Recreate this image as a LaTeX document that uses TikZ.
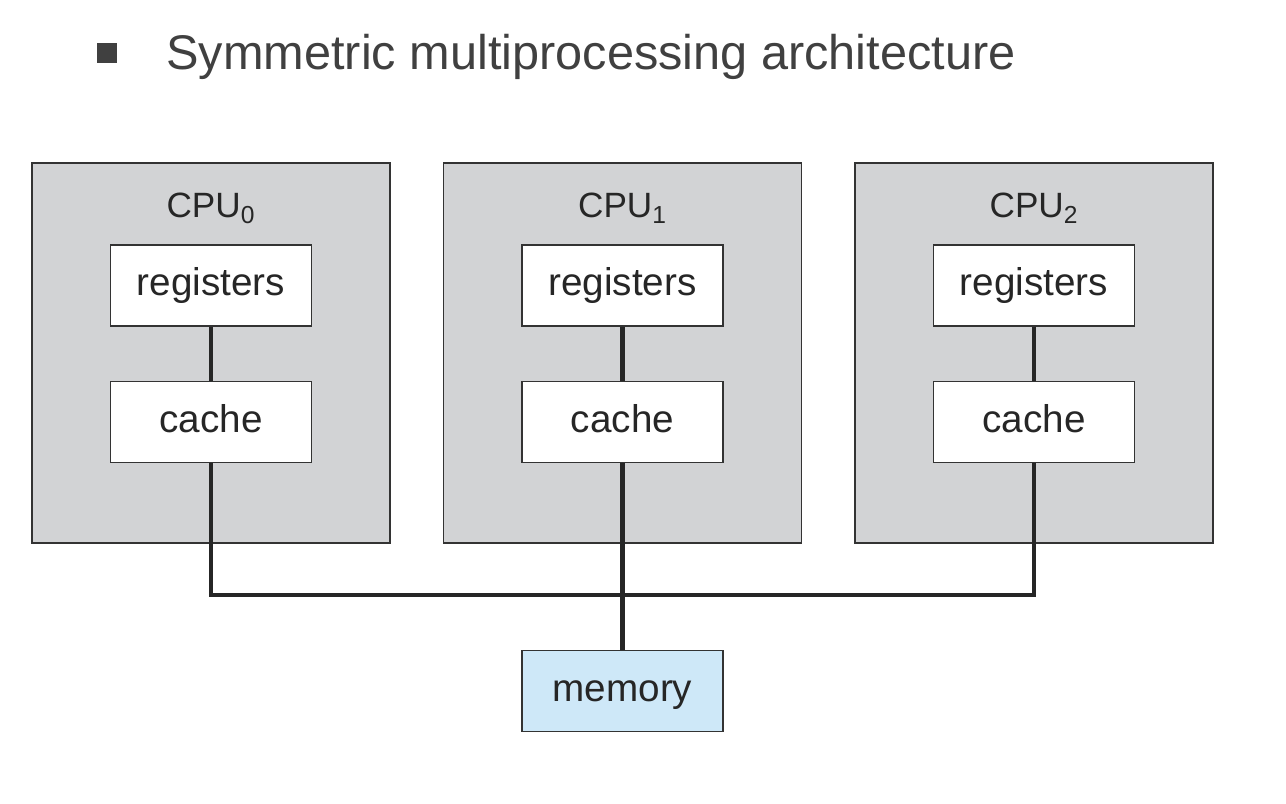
\documentclass[tikz,border=0pt]{standalone}
\usepackage{fontspec}
\setmainfont{Liberation Sans}
\usetikzlibrary{positioning}

\definecolor{cpugray}{RGB}{210,211,213}
\definecolor{memblue}{RGB}{206,232,248}
\definecolor{titlegray}{RGB}{64,64,64}

\begin{document}
\begin{tikzpicture}[
    x=0.02cm, y=-0.02cm,
    cpu/.style={rectangle, draw=black!80, fill=cpugray, line width=0.8pt, minimum width=7.16cm, minimum height=7.6cm},
    unit/.style={rectangle, draw=black!80, fill=white, line width=0.8pt, minimum width=4.02cm, minimum height=1.62cm, text=black!85, text height=16.5pt, text depth=4.6pt, font=\fontsize{22}{26}\selectfont},
    cpulabel/.style={anchor=base, text=black!85, font=\fontsize{20}{24}\selectfont},
    bus/.style={line width=2.3pt, draw=black!85}
]
\useasboundingbox (0,0) rectangle (1286,804);

% Title
\node[fill=titlegray, minimum size=0.4cm, inner sep=0pt] (bullet) at (107,53) {};
\node[anchor=base west, inner sep=0pt, text=titlegray, font=\fontsize{27.7}{32}\selectfont] (title) at (166,70) {Symmetric multiprocessing architecture};

% CPUs
\node[cpu] (cpu0) at (211,353) {};
\node[cpu] (cpu1) at (622.5,353) {};
\node[cpu] (cpu2) at (1034,353) {};

\node[cpulabel] (lbl0) at (211,218) {CPU\textsubscript{0}};
\node[cpulabel] (lbl1) at (622.5,218) {CPU\textsubscript{1}};
\node[cpulabel] (lbl2) at (1034,218) {CPU\textsubscript{2}};

% Registers and caches
\node[unit, below=1.64cm of cpu0.north] (reg0) {registers};
\node[unit, below=1.08cm of reg0] (cache0) {cache};
\node[unit, below=1.64cm of cpu1.north] (reg1) {registers};
\node[unit, below=1.08cm of reg1] (cache1) {cache};
\node[unit, below=1.64cm of cpu2.north] (reg2) {registers};
\node[unit, below=1.08cm of reg2] (cache2) {cache};

% Memory
\node[unit, fill=memblue, below=2.12cm of cpu1.south] (memory) {memory};

% Connections
\coordinate (busmid) at (622.5,595);
\draw[bus] (reg0) -- (cache0);
\draw[bus] (reg1) -- (cache1);
\draw[bus] (reg2) -- (cache2);
\draw[bus] (cache0.south) |- (busmid) -| (cache2.south);
\draw[bus] (cache1.south) -- (memory.north);

\end{tikzpicture}
\end{document}
